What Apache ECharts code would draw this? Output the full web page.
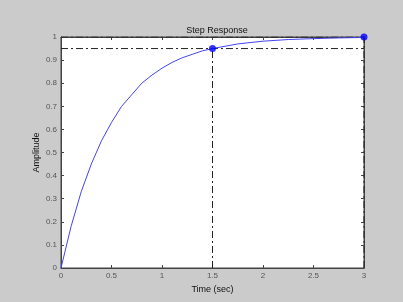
<!DOCTYPE html>
<html><head><meta charset="utf-8">
<script src="https://cdn.jsdelivr.net/npm/echarts@6/dist/echarts.min.js"></script>
<style>html,body{margin:0;padding:0;background:#cbcbcb;}#c{width:403px;height:302px;}</style>
</head><body><div id="c"></div>
<script>
const times = [0, 0.1, 0.2, 0.25, 0.3, 0.4, 0.5, 0.6, 0.7, 0.8, 0.9, 1.0, 1.1, 1.2, 1.3, 1.4, 1.5, 1.75, 2.0, 2.25, 2.5, 2.75, 3.0];
const amplitude = [0, 0.18, 0.33, 0.39, 0.45, 0.55, 0.63, 0.70, 0.75, 0.80, 0.835, 0.865, 0.89, 0.91, 0.925, 0.94, 0.95, 0.97, 0.982, 0.989, 0.993, 0.996, 0.998];
const settleTime = 1.5, settleValue = 0.95;
const finalTime = 3, finalValue = 1;
const xTicks = ['0','0.5','1','1.5','2','2.5','3'];
const yTicks = ['0','0.1','0.2','0.3','0.4','0.5','0.6','0.7','0.8','0.9','1'];

const font = 'Arial, "Liberation Sans", sans-serif';
const axisCol = '#444';
const dash = [7, 3, 2, 3];
const guideStyle = {color: '#222', width: 1, type: dash};
const guide = (pts) => ({type:'line', data: pts, symbol:'none', lineStyle: guideStyle, silent:true, z:3});

const chart = echarts.init(document.getElementById('c'), null, {renderer:'canvas'});
chart.setOption({
  backgroundColor: '#cbcbcb',
  animation: false,
  title: {text:'Step Response', left: 212, top: 21, textAlign:'center',
    textStyle:{fontFamily:font, fontSize:9, fontWeight:'normal', color:'#111'}},
  grid: {left: 61, right: 39, top: 37, bottom: 34, show: true, backgroundColor:'#fff', borderColor: axisCol, borderWidth: 1},
  xAxis: [{
    type:'value', min:0, max:3, interval:0.5, position:'bottom',
    name:'Time (sec)', nameLocation:'middle', nameGap: 17, nameMoveOverlap:false,
    nameTextStyle:{fontFamily:font, fontSize:9, color:'#111'},
    axisLine:{show:true, onZero:false, lineStyle:{color:axisCol}},
    axisTick:{show:true, inside:true, length:3, lineStyle:{color:axisCol}},
    axisLabel:{fontFamily:font, fontSize:8, color:'#555', margin:4, formatter:(v)=>xTicks[Math.round(v/0.5)]},
    splitLine:{show:false}
  },{
    type:'value', min:0, max:3, interval:0.5, position:'top',
    axisLine:{show:true, onZero:false, lineStyle:{color:axisCol}},
    axisTick:{show:true, inside:true, length:3, lineStyle:{color:axisCol}},
    axisLabel:{show:false}, splitLine:{show:false}
  }],
  yAxis: [{
    type:'value', min:0, max:1, interval:0.1, position:'left',
    name:'Amplitude', nameLocation:'middle', nameGap: 20, nameRotate: 90, nameMoveOverlap:false,
    nameTextStyle:{fontFamily:font, fontSize:9, color:'#111'},
    axisLine:{show:true, onZero:false, lineStyle:{color:axisCol}},
    axisTick:{show:true, inside:true, length:3, lineStyle:{color:axisCol}},
    axisLabel:{fontFamily:font, fontSize:8, color:'#555', margin:4, formatter:(v)=>yTicks[Math.round(v*10)]},
    splitLine:{show:false}
  },{
    type:'value', min:0, max:1, interval:0.1, position:'right',
    axisLine:{show:true, onZero:false, lineStyle:{color:axisCol}},
    axisTick:{show:true, inside:true, length:3, lineStyle:{color:axisCol}},
    axisLabel:{show:false}, splitLine:{show:false}
  }],
  series: [
    guide([[0, settleValue],[finalTime, settleValue]]),
    guide([[settleTime, 0],[settleTime, settleValue]]),
    guide([[finalTime, 0],[finalTime, finalValue]]),
    guide([[0, finalValue],[finalTime, finalValue]]),
    {type:'line', data: times.map((t,i)=>[t, amplitude[i]]), symbol:'none', smooth:false,
      lineStyle:{color:'#4444ee', width:1}, z:4},
    {type:'scatter', data: [[settleTime, settleValue],[finalTime, finalValue]], symbolSize:7,
      itemStyle:{color:'#0000ff'}, z:5}
  ]
});
</script></body></html>
